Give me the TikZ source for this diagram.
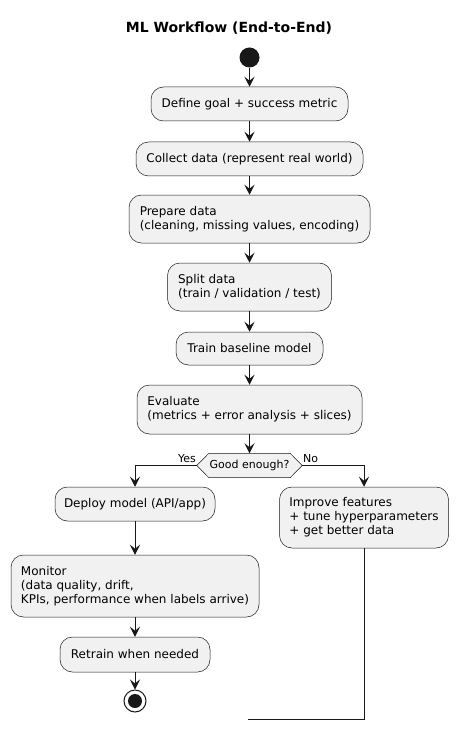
\documentclass[tikz,border=0pt]{standalone}
\usepackage{fontspec}
\setmainfont{DejaVu Sans}
\usetikzlibrary{arrows.meta,calc}
\definecolor{cline}{HTML}{181818}
\definecolor{cfill}{HTML}{F1F1F1}
\begin{document}
\begin{tikzpicture}[x=1pt,y=-1pt,
  act/.style={draw=cline, fill=cfill, line width=0.5pt, rounded corners=12.5pt,
    align=left, font=\fontsize{12}{14}\selectfont, inner sep=0pt},
  flow/.style={draw=cline, line width=1pt, -{Stealth[length=10pt,width=10pt,inset=4pt]}},
  plain/.style={draw=cline, line width=1pt},
  lbl/.style={font=\fontsize{11}{13}\selectfont, inner sep=0pt}]
\useasboundingbox[fill=white] (0,0) rectangle (458,730);

\node[font=\bfseries\fontsize{14}{16}\selectfont, anchor=base, inner sep=0pt] (title) at (229,33) {ML Workflow (End-to-End)};

\node[circle, fill=cline, minimum size=20pt, inner sep=0pt] (start) at (249.5,57.5) {};

\node[act, minimum width=197pt, minimum height=34pt] (b1) at (249.5,104) {Define goal + success metric};
\node[act, minimum width=227pt, minimum height=34pt] (b2) at (249.5,159) {Collect data (represent real world)};
\node[act, minimum width=241pt, minimum height=48pt] (b3) at (249.5,219) {Prepare data\\(cleaning, missing values, encoding)};
\node[act, minimum width=164pt, minimum height=48pt] (b4) at (249.5,287) {Split data\\(train / validation / test)};
\node[act, minimum width=147pt, minimum height=33pt] (b5) at (249.5,348.5) {Train baseline model};
\node[act, minimum width=225pt, minimum height=49pt] (b6) at (249.5,409.5) {Evaluate\\(metrics + error analysis + slices)};

\node[lbl, minimum width=105pt, minimum height=24pt] (dec) at (249.5,465.5) {};
\draw[draw=cline, fill=cfill, line width=0.5pt]
  (dec.west) -- ($(dec.north west)+(12,0)$) -- ($(dec.north east)+(-12,0)$) -- (dec.east)
  -- ($(dec.south east)+(-12,0)$) -- ($(dec.south west)+(12,0)$) -- cycle;
\node[lbl] (dectext) at (dec.center) {Good enough?};

\node[lbl, anchor=base east] (yes) at (196,462) {Yes};
\node[lbl, anchor=base west] (no) at (303,462) {No};

\node[act, minimum width=160pt, minimum height=34pt] (deploy) at (135,504) {Deploy model (API/app)};
\node[act, minimum width=169pt, minimum height=61pt] (improve) at (364,517.5) {Improve features\\+ tune hyperparameters\\+ get better data};
\node[act, minimum width=248pt, minimum height=62pt] (monitor) at (135,586) {Monitor\\(data quality, drift,\\KPIs, performance when labels arrive)};
\node[act, minimum width=150pt, minimum height=35pt] (retrain) at (135,654.5) {Retrain when needed};

\node[circle, draw=cline, line width=1pt, fill=white, minimum size=22pt, inner sep=0pt] (stop) at (135,701) {};
\node[circle, fill=cline, minimum size=14pt, inner sep=0pt] (stopdot) at (stop.center) {};

\coordinate (loopend) at (248,719);

\draw[flow] (start) -- (b1);
\draw[flow] (b1) -- (b2);
\draw[flow] (b2) -- (b3);
\draw[flow] (b3) -- (b4);
\draw[flow] (b4) -- (b5);
\draw[flow] (b5) -- (b6);
\draw[flow] (b6) -- (dec);
\draw[flow] (dec.west) -| (deploy.north);
\draw[flow] (dec.east) -| (improve.north);
\draw[flow] (deploy) -- (monitor);
\draw[flow] (monitor) -- (retrain);
\draw[flow] (retrain) -- (stop);
\draw[plain] (improve.south) |- (loopend);
\end{tikzpicture}
\end{document}
